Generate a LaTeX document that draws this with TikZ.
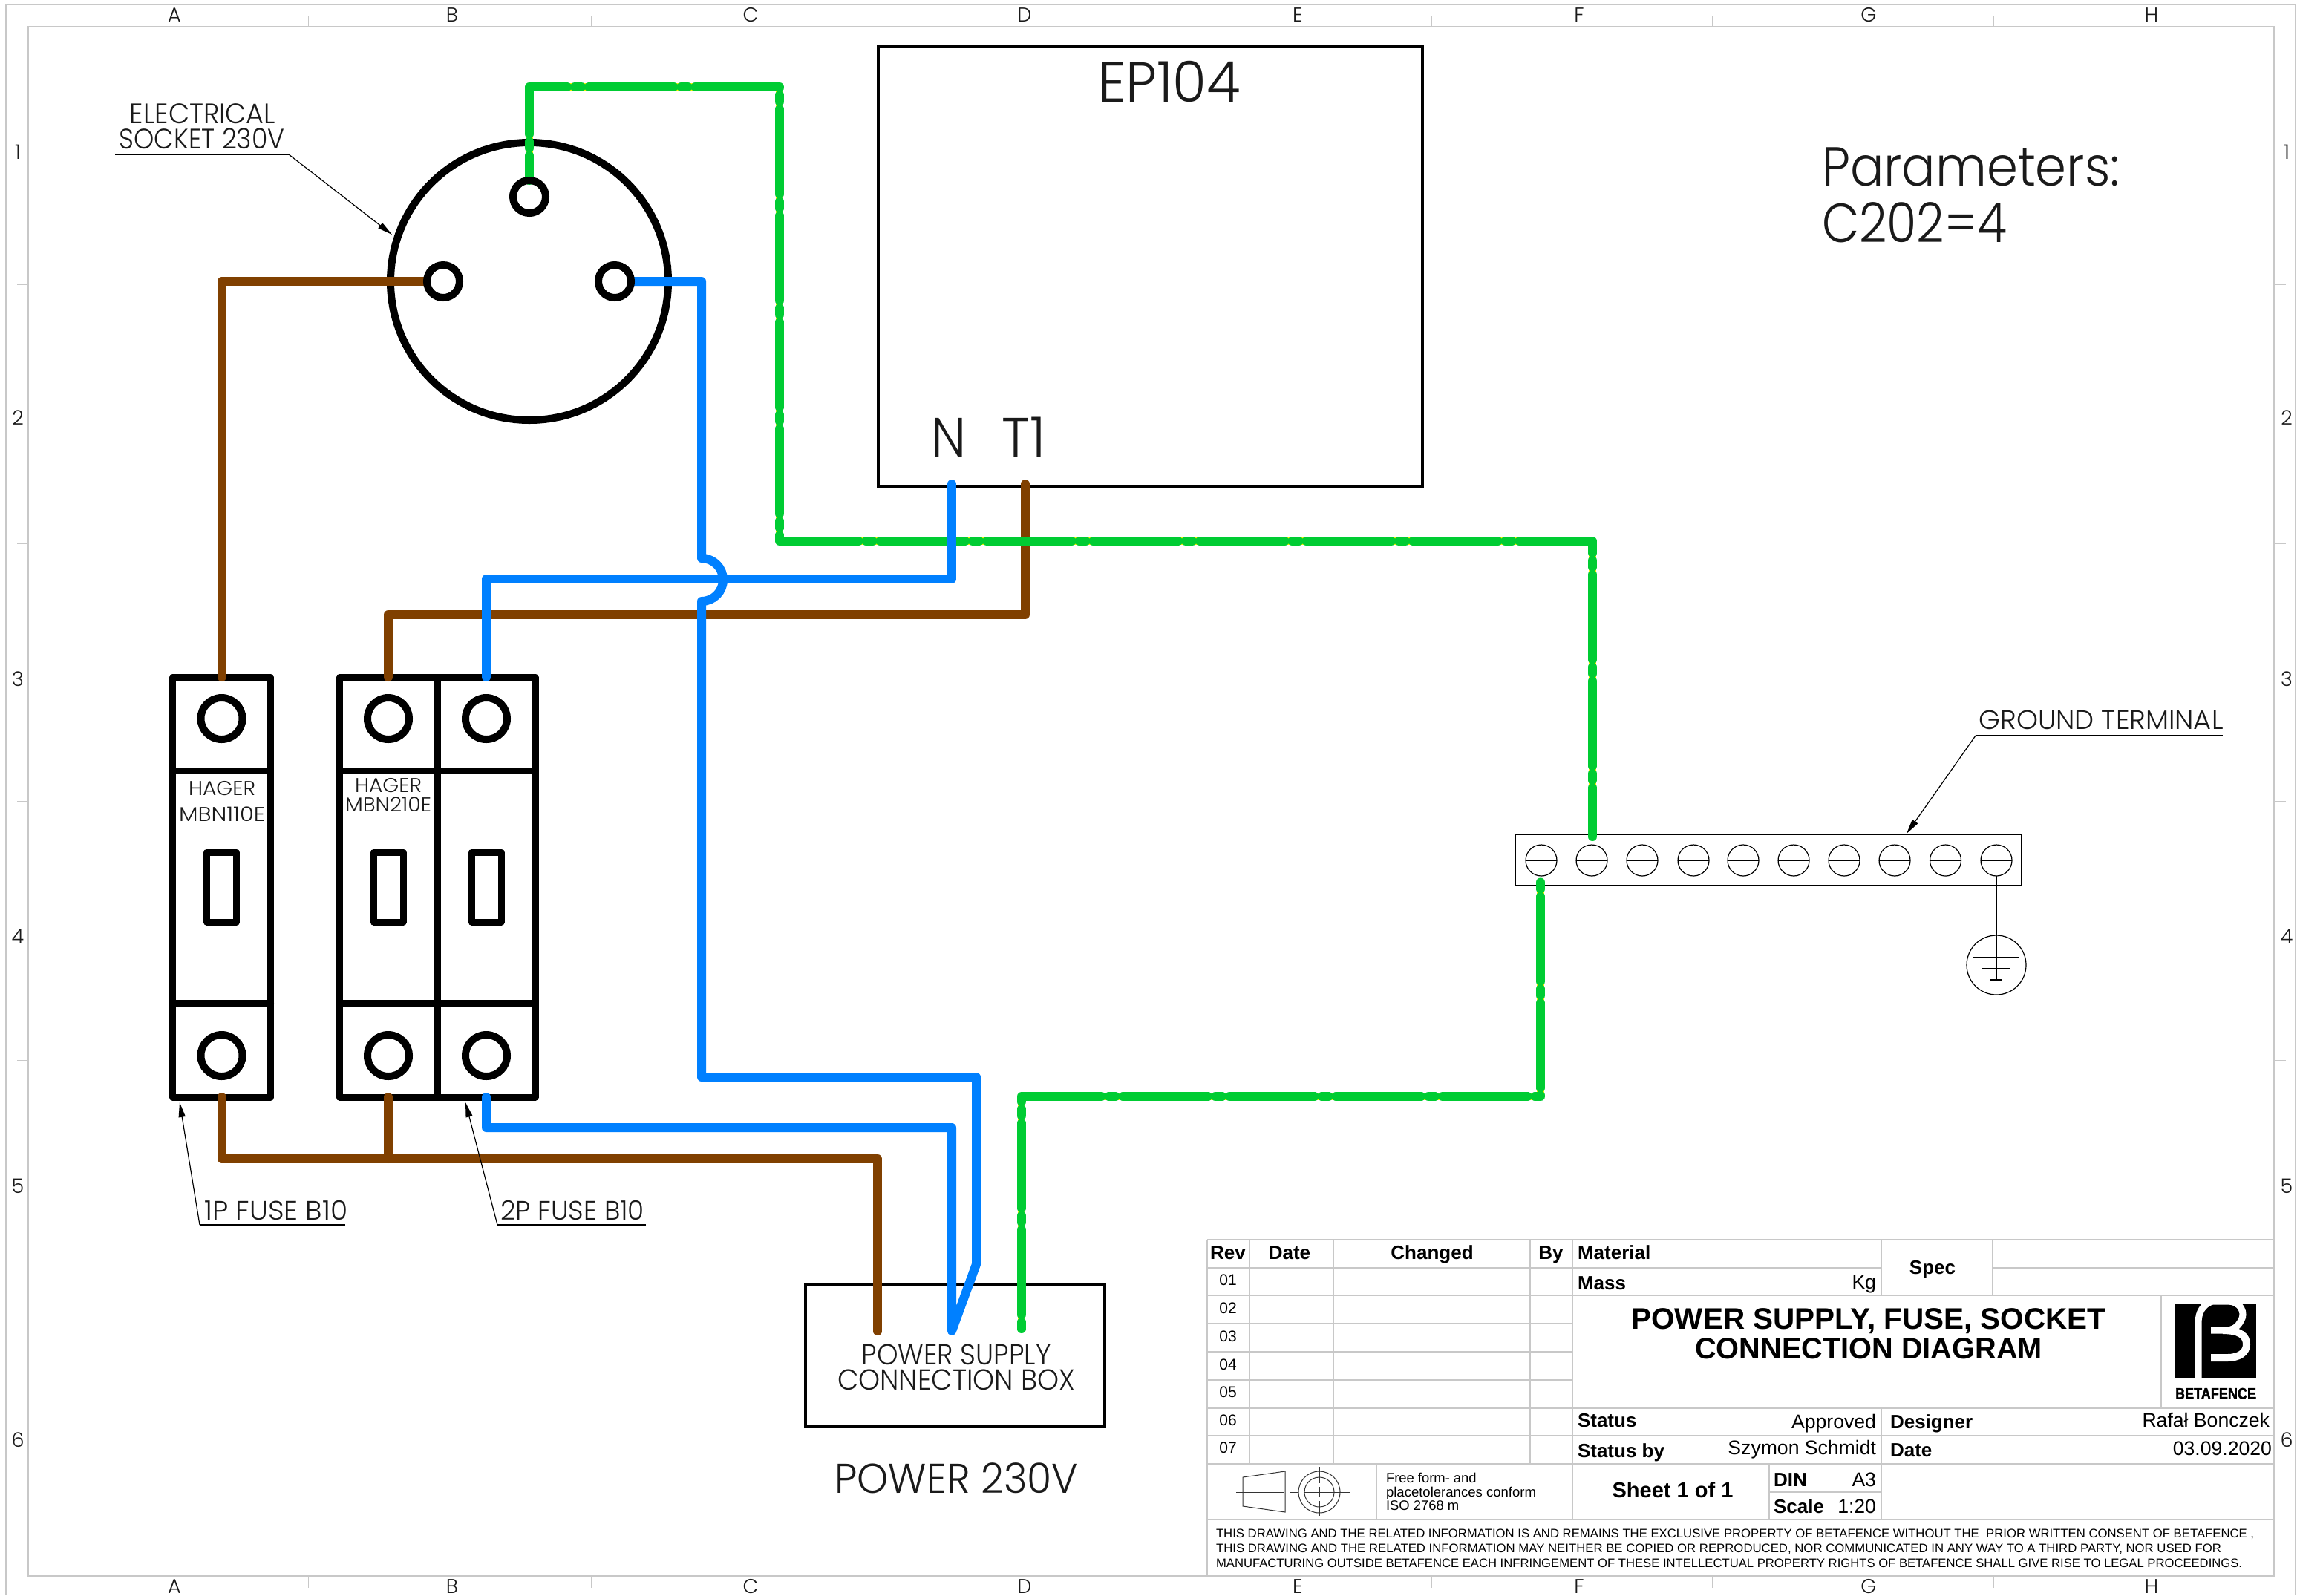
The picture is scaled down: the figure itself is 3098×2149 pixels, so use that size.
\documentclass[tikz,border=0pt]{standalone}
\usepackage{fontspec}
\usepackage{graphicx}
\usetikzlibrary{arrows.meta}
\setmainfont{Liberation Sans}
\newfontfamily\cg{Poppins Light}
\newfontfamily\arl{Liberation Sans}
\newfontfamily\lgf[FakeBold=2]{Liberation Sans Bold}
\newdimen\pxu \pxu=.5pt
\newcommand\fitw[2]{\resizebox{#1\pxu}{\height}{#2}}
\definecolor{wbrown}{HTML}{804000}
\definecolor{wblue}{HTML}{0080FF}
\definecolor{wgreen}{HTML}{00CC33}
\definecolor{wyellow}{HTML}{FFF200}
\definecolor{framegray}{HTML}{C8C8C8}
\definecolor{inkdark}{HTML}{1A1A1A}
\tikzset{
  cgt/.style={font=\cg\fontsize{#1pt}{#1pt}\selectfont,inner sep=0pt,outer sep=0pt,text height={0.7*#1 pt},text depth=0pt,text=inkdark},
  art/.style={font=\arl\fontsize{#1pt}{#1pt}\selectfont,inner sep=0pt,outer sep=0pt,text height={0.7*#1 pt},text depth=0pt,text=black},
  arb/.style={font=\arl\bfseries\fontsize{#1pt}{#1pt}\selectfont,inner sep=0pt,outer sep=0pt,text height={0.7*#1 pt},text depth=0pt,text=black},
  framel/.style={draw=framegray,line width=1pt},
  tickl/.style={draw=framegray,line width=.5pt},
  tbh/.style={draw=framegray,line width=1.2pt},
  tbv/.style={draw=framegray,line width=.7pt},
  heavy/.style={draw=black,line width=#1,line join=round,line cap=round},
  fusebox/.style={rectangle,draw=black,line width=4.5pt,minimum width=66pt,minimum height=283pt,outer sep=0pt,inner sep=0pt,line join=round},
  ring/.style={circle,draw=black,line width=5pt,minimum size=28pt,inner sep=0pt,outer sep=0pt},
  toggle/.style={rectangle,draw=black,line width=4.5pt,minimum width=20pt,minimum height=47pt,inner sep=0pt,outer sep=0pt,line join=round},
  pinring/.style={circle,draw=black,line width=5pt,minimum size=22pt,inner sep=0pt,outer sep=0pt},
  screw/.style={circle,draw=black,line width=.6pt,minimum size=21pt,inner sep=0pt,outer sep=0pt},
  wire/.style={line width=6pt,line cap=round,line join=round},
  brownw/.style={wire,draw=wbrown},
  bluew/.style={wire,draw=wblue},
  yellw/.style={line width=5pt,line join=round,draw=wyellow},
  greenw/.style={wire,draw=wgreen,dash pattern=on 57.25pt off 5pt on 4.5pt off 5pt,dash phase=#1},
  leader/.style={draw=black,line width=.6pt,-{Triangle[length=10pt,width=4.5pt]}},
  under/.style={draw=black,line width=.6pt},
  symb/.style={draw=black!80,line width=.5pt},
}
\begin{document}
\begin{tikzpicture}[x=.5pt,y=-.5pt]
\useasboundingbox (0,0) rectangle (3098,2149);
\fill[white] (0,0) rectangle (3098,2149);
% sheet frame
\draw[framel] (8,2149) -- (8,6) -- (3092,6) -- (3092,2149);
\draw[framel] (38,36) rectangle (3063,2123);
\foreach \x in {415,796,1174,1550,1928,2306,2685}{
  \draw[tickl] (\x,21) -- (\x,36);
  \draw[tickl] (\x,2123) -- (\x,2139);
}
\foreach \y in {383,732,1079,1428,1775}{
  \draw[tickl] (23,\y) -- (38,\y);
  \draw[tickl] (3063,\y) -- (3079,\y);
}
\foreach \x/\l in {235/A,609/B,1011/C,1380/D,1748/E,2127/F,2517/G,2898/H}{
  \node[cgt=13.5] (top\l) at (\x,20) {\l};
  \node[cgt=13.5] (bot\l) at (\x,2137) {\l};
}
\foreach \y/\l in {205/1,563/2,915/3,1262/4,1598/5,1940/6}{
  \node[cgt=13.5] (lft\l) at (24,\y) {\l};
  \node[cgt=13.5] (rgt\l) at (3080,\y) {\l};
}
% boxes
\node[rectangle,draw=black,line width=1.75pt,minimum width=366.5pt,minimum height=296pt,inner sep=0pt,outer sep=0pt] (ep) at (1549.5,359) {};
\node[rectangle,draw=black,line width=2pt,minimum width=201.5pt,minimum height=96pt,inner sep=0pt,outer sep=0pt] (supply) at (1286.5,1826) {};
\node[cgt=38] (eptitle) at (1575,111) {\fitw{192}{EP104}};
\node[cgt=38] (epn) at (1278,590) {\fitw{47}{N}};
\node[cgt=38] (ept) at (1379,590) {\fitw{59}{T1}};
\node[cgt=37,anchor=west] (par1) at (2454,225) {\fitw{401}{Parameters:}};
\node[cgt=37,anchor=west] (par2) at (2454,301) {\fitw{249}{C202=4}};
\node[cgt=19.5] (sup1) at (1288,1825) {\fitw{255}{POWER SUPPLY}};
\node[cgt=19.5] (sup2) at (1288,1859) {\fitw{320}{CONNECTION BOX}};
\node[cgt=28] (pwr) at (1288,1992) {\fitw{328}{POWER 230V}};
% socket
\node[circle,draw=black,line width=5pt,minimum size=187pt,inner sep=0pt,outer sep=0pt] (socket) at (713,379) {};
\coordinate (pt) at (713,265);
\coordinate (pl) at (597,379);
\coordinate (pr) at (828,379);
% fuses
\node[fusebox] (f1) at (298.5,1195) {};
\node[fusebox] (f2a) at (523,1195) {};
\node[fusebox] (f2b) at (655,1195) {};
\foreach \n in {f1,f2a,f2b}{
  \draw[heavy=4.5pt] (\n.west |- 0,1038) -- (\n.east |- 0,1038);
  \draw[heavy=4.5pt] (\n.west |- 0,1351) -- (\n.east |- 0,1351);
  \node[ring] (\n top) at (\n |- 0,968) {};
  \node[ring] (\n bot) at (\n |- 0,1422) {};
  \node[toggle] (\n sw) at (\n |- 0,1195) {};
}
\node[cgt=13.5] (hag1) at (299,1062) {\fitw{90}{HAGER}};
\node[cgt=13.5] (mbn1) at (299,1097) {\fitw{116}{MBN110E}};
\node[cgt=13.5] (hag2) at (523,1058) {\fitw{90}{HAGER}};
\node[cgt=13.5] (mbn2) at (523,1084) {\fitw{116}{MBN210E}};
% wire end points
\coordinate (nN) at (1282,652);
\coordinate (nT) at (1381,652);
\coordinate (cB) at (1182,1793);
\coordinate (cN) at (1282,1793);
\coordinate (cG) at (1376,1793);
% ground terminal
\node[rectangle,draw=black,line width=.9pt,minimum width=340.75pt,minimum height=34.5pt,inner sep=0pt,outer sep=0pt] (gbar) at (2381.75,1158.5) {};
\foreach \i/\x in {1/2076,2/2144,3/2212,4/2281,5/2348,6/2416,7/2484,8/2552,9/2620.5,10/2689}{
  \node[screw] (s\i) at (\x,1159) {};
  \draw[line width=.75pt,draw=black] (s\i.west) -- (s\i.east);
}
\node[circle,draw=black,line width=.6pt,minimum size=40pt,inner sep=0pt,outer sep=0pt] (earth) at (2689,1300) {};
\draw[draw=black,line width=.4pt] (s10.south) -- (2689,1320);
\draw[line width=1.1pt] (2658,1290) -- (2720,1290);
\draw[line width=1pt] (2670,1305) -- (2708,1305);
\draw[line width=.8pt] (2680,1320) -- (2696,1320);
% wires
\draw[brownw] (pl) ++(-24,0) -- (298.5,379) -- (f1.north);
\draw[brownw] (nT) -- (1381,828) -- (523,828) -- (f2a.north);
\draw[brownw] (f1.south) -- (298.5,1561) -- (1182,1561) -- (cB);
\draw[brownw] (f2a.south) -- (523,1561);
\draw[yellw] (713,243) -- (713,117) -- (1050,117) -- (1050,729) -- (2145,729) -- (2145,1127);
\draw[yellw] (2075,1188) -- (2075,1477) -- (1376,1477) -- (cG);
\draw[greenw=40.5pt] (713,243) -- (713,117) -- (1050,117) -- (1050,729) -- (2145,729) -- (2145,1127);
\draw[greenw=62pt] (2075,1188) -- (2075,1477) -- (1376,1477) -- (cG);
\draw[bluew] (pr) ++(24,0) -- (945,379) -- (945,752) arc[start angle=90,end angle=-90,radius=14.5pt] -- (945,1451) -- (1315,1451) -- (1315,1703) -- (cN) -- (1282,1519) -- (655,1519) -- (f2b.south);
\draw[bluew] (nN) -- (1282,780) -- (655,780) -- (f2b.north);
% socket pins
\node[pinring] (pinT) at (pt) {};
\node[pinring] (pinL) at (pl) {};
\node[pinring] (pinR) at (pr) {};
% leaders
\coordinate (e1) at (155,208);\coordinate (e2) at (389,208);\coordinate (e3) at (528,316);
\draw[under] (e1) -- (e2);
\draw[leader] (e2) -- (e3);
\node[cgt=19] (elec) at (273,153) {\fitw{196}{ELECTRICAL}};
\node[cgt=19] (sock) at (272,187) {\fitw{223}{SOCKET 230V}};
\coordinate (l1a) at (465,1650);\coordinate (l1b) at (269,1650);\coordinate (l1c) at (242,1485);
\draw[under] (l1a) -- (l1b);
\draw[leader] (l1b) -- (l1c);
\node[cgt=18] (fuse1t) at (372,1631) {\fitw{193}{1P FUSE B10}};
\coordinate (l2a) at (870,1650);\coordinate (l2b) at (670,1650);\coordinate (l2c) at (627,1485);
\draw[under] (l2a) -- (l2b);
\draw[leader] (l2b) -- (l2c);
\node[cgt=18] (fuse2t) at (771,1631) {\fitw{194}{2P FUSE B10}};
\coordinate (g1) at (2994,991);\coordinate (g2) at (2661,991);\coordinate (g3) at (2568,1123);
\draw[under] (g1) -- (g2);
\draw[leader] (g2) -- (g3);
\node[cgt=18] (gndt) at (2830,970) {\fitw{329}{GROUND TERMINAL}};
% title block lines
\foreach \y/\a/\b in {1670/1626/3063,1708/1626/2534,1708/2684/3063,1745/1626/3063,1783/1626/2118,1821/1626/2118,1859/1626/2118,1897/1626/3063,1934/1626/3063,1972/1626/3063,2010/2383/2534,2047/1626/3063}{
  \draw[tbh] (\a,\y) -- (\b,\y);
}
\foreach \x/\a/\b in {1626/1670/2123,1683/1670/1972,1796/1670/1972,2061/1670/1972,2118/1670/2047,2534/1670/1745,2534/1897/2047,2684/1670/1745,2911/1745/1897,1854/1972/2047,2383/1972/2047}{
  \draw[tbv] (\x,\a) -- (\x,\b);
}
% title block text
\node[arb=13] (hrev) at (1654,1687) {Rev};
\node[arb=13] (hdate) at (1737,1687) {Date};
\node[arb=13] (hchg) at (1929,1687) {Changed};
\node[arb=13] (hby) at (2089,1687) {By};
\node[arb=13,anchor=west] (hmat) at (2125,1687) {Material};
\node[arb=13,anchor=west] (hmass) at (2125,1728) {Mass};
\node[art=13.3,anchor=east] (hkg) at (2527,1727) {Kg};
\node[arb=13] (hspec) at (2603,1707) {Spec};
\foreach \i/\y in {01/1724,02/1762,03/1800,04/1838,05/1875,06/1913,07/1950}{
  \node[art=10.5] (rev\i) at (1654,\y) {\i};
}
\node[arb=20] (ttl1) at (2517,1776) {\fitw{639}{POWER SUPPLY, FUSE, SOCKET}};
\node[arb=20] (ttl2) at (2517,1816) {\fitw{468}{CONNECTION DIAGRAM}};
\node[arb=13,anchor=west] (stat) at (2125,1913) {Status};
\node[art=13.3,anchor=east] (appr) at (2527,1915) {Approved};
\node[arb=13,anchor=west] (desg) at (2546,1915) {Designer};
\node[art=13.3,anchor=east] (rafal) at (3057,1913) {Rafał Bonczek};
\node[arb=13,anchor=west] (statb) at (2125,1954) {Status by};
\node[art=13.3,anchor=east] (szym) at (2527,1950) {Szymon Schmidt};
\node[arb=13,anchor=west] (datl) at (2546,1953) {Date};
\node[art=13.3,anchor=east] (datv) at (3060,1951) {03.09.2020};
\node[arb=14.5] (sheet) at (2253,2007) {Sheet 1 of 1};
\node[arb=13,anchor=west] (din) at (2389,1993) {DIN};
\node[art=13.3,anchor=east] (a3) at (2527,1993) {A3};
\node[arb=13,anchor=west] (scl) at (2389,2029) {Scale};
\node[art=13.3,anchor=east] (s120) at (2527,2029) {1:20};
\node[art=9.2,anchor=west] (ff1) at (1867,1991) {Free form- and};
\node[art=9.2,anchor=west] (ff2) at (1867,2010) {\fitw{202}{placetolerances conform}};
\node[art=9.2,anchor=west] (ff3) at (1867,2028) {ISO 2768 m};
\node[art=8.3,anchor=west] (dis1) at (1638,2066) {\fitw{1398}{THIS DRAWING AND THE RELATED INFORMATION IS AND REMAINS THE EXCLUSIVE PROPERTY OF BETAFENCE WITHOUT THE\ \ PRIOR WRITTEN CONSENT OF BETAFENCE ,}};
\node[art=8.3,anchor=west] (dis2) at (1638,2086) {\fitw{1354}{THIS DRAWING AND THE RELATED INFORMATION MAY NEITHER BE COPIED OR REPRODUCED, NOR COMMUNICATED IN ANY WAY TO A THIRD PARTY, NOR USED FOR}};
\node[art=8.3,anchor=west] (dis3) at (1638,2106) {\fitw{1382}{MANUFACTURING OUTSIDE BETAFENCE EACH INFRINGEMENT OF THESE INTELLECTUAL PROPERTY RIGHTS OF BETAFENCE SHALL GIVE RISE TO LEGAL PROCEEDINGS.}};
% tolerance symbol
\draw[symb] (1674,1990) -- (1731,1982) -- (1731,2037) -- (1674,2029) -- cycle;
\draw[symb] (1665,2010) -- (1729,2010);
\draw[symb] (1738,2010) -- (1748,2010);
\draw[symb] (1777,2010) circle[radius=14pt];
\draw[symb] (1777,2010) circle[radius=10pt];
\draw[symb] (1757,2010) -- (1819,2010);
\draw[symb] (1777,1976) -- (1777,1998);
\draw[symb] (1777,2003) -- (1777,2017);
\draw[symb] (1777,2022) -- (1777,2042);
% logo
\fill[black] (2930,1756) rectangle (3039,1856);
\draw[white,line width=4.5pt] (2961,1856) -- (2961,1782) .. controls (2961,1768) and (2967,1757) .. (2980,1753) -- (3000,1753) .. controls (3020,1753) and (3024,1770) .. (3019,1778) .. controls (3014,1788) and (3008,1792) .. (2996,1792) -- (2978,1792);
\draw[white,line width=5pt] (2994,1792) .. controls (3018,1792) and (3026,1800) .. (3026,1811) .. controls (3026,1822) and (3016,1829) .. (3000,1829) -- (2978,1829);
\node[inner sep=0pt,outer sep=0pt,text height=7.5pt,text depth=0pt,anchor=west,font=\lgf\fontsize{10.5pt}{10.5pt}\selectfont] (betaf) at (2930,1877) {\fitw{109}{BETAFENCE}};
\end{tikzpicture}
\end{document}
